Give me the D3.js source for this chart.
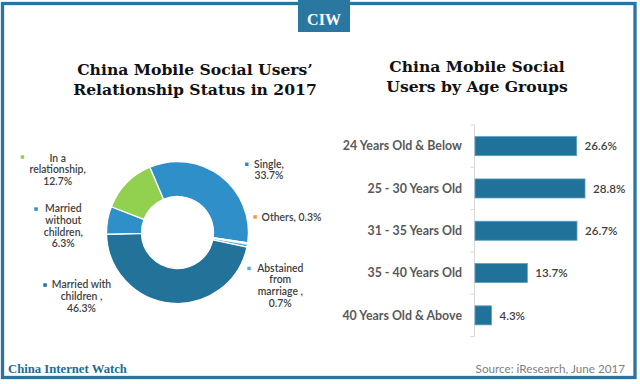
<!DOCTYPE html>
<html>
<head>
<meta charset="utf-8">
<script src="https://cdn.jsdelivr.net/npm/d3@7"></script>
<style>
  html, body { margin: 0; padding: 0; background: #fff; }
  svg { display: block; }
</style>
</head>
<body>
<svg id="chart" width="640" height="384"></svg>
<script>
// ---- data ----
const relCategories = ["Single", "Others", "Abstained from marriage", "Married with children", "Married without children", "In a relationship"];
const relValues = [33.7, 0.3, 0.7, 46.3, 6.3, 12.7];
const relLabelLines = [
  ["Single,", "33.7%"],
  ["Others, 0.3%"],
  ["Abstained", "from", "marriage ,", "0.7%"],
  ["Married with", "children ,", "46.3%"],
  ["Married", "without", "children,", "6.3%"],
  ["In a", "relationship,", "12.7%"]
];
const ageCategories = ["24 Years Old & Below", "25 - 30 Years Old", "31 - 35 Years Old", "35 - 40 Years Old", "40 Years Old & Above"];
const ageValues = [26.6, 28.8, 26.7, 13.7, 4.3];
const ageValueLabels = ["26.6%", "28.8%", "26.7%", "13.7%", "4.3%"];

// ---- styles / layout ----
const relColors = ["#2e8fc9", "#f79646", "#5aaee0", "#22729a", "#2e8fc9", "#92d050"];
const relLabelLayout = [
  { cx: 269, y: 167.5, mx: 245, my: 162.5 },
  { cx: 291.5, y: 220.7, mx: 253.3, my: 215.2 },
  { cx: 280.3, y: 271.7, mx: 247.3, my: 266.7 },
  { cx: 81.5, y: 288.3, mx: 43.3, my: 283.3 },
  { cx: 63.3, y: 212.3, mx: 34.3, my: 207.3 },
  { cx: 57.7, y: 161.7, mx: 20.7, my: 155.3 }
];
const lineH = 11.7;
const bodyFont = "Lato, 'Open Sans', sans-serif";
const serifFont = "'DejaVu Serif', 'Liberation Serif', serif";
const footFont = "'Liberation Serif', serif";

const svg = d3.select("#chart");

// frame
svg.append("rect")
  .attr("x", 2.5).attr("y", 3.5).attr("width", 632.5).attr("height", 374)
  .attr("fill", "none").attr("stroke", "#2a74a0").attr("stroke-width", 3.3);

// CIW badge
svg.append("rect").attr("x", 298).attr("y", 0).attr("width", 52).attr("height", 32).attr("fill", "#2a77a2");
svg.append("text").attr("x", 324).attr("y", 25).attr("text-anchor", "middle")
  .attr("font-family", footFont).attr("font-weight", "bold").attr("font-size", 16)
  .attr("fill", "#fff").text("CIW");

// titles
function title(lines, cx, y0) {
  lines.forEach((t, i) => {
    svg.append("text").attr("x", cx).attr("y", y0 + i * 20).attr("text-anchor", "middle")
      .attr("font-family", serifFont).attr("font-weight", "bold").attr("font-size", 15.6)
      .attr("fill", "#111").text(t);
  });
}
title(["China Mobile Social Users’", "Relationship Status in 2017"], 195, 75);
title(["China Mobile Social", "Users by Age Groups"], 477, 71.7);

// ---- donut ----
const cx = 177.5, cy = 232.5;
const start = -23 * Math.PI / 180;
const pie = d3.pie().sort(null).startAngle(start).endAngle(start + 2 * Math.PI);
const arc = d3.arc().innerRadius(36).outerRadius(71);
const g = svg.append("g").attr("transform", `translate(${cx},${cy})`);
g.selectAll("path").data(pie(relValues)).join("path")
  .attr("d", arc)
  .attr("fill", (d, i) => relColors[i])
  .attr("stroke", "#fff").attr("stroke-width", 1.3);

// donut labels
relLabelLines.forEach((lines, i) => {
  const L = relLabelLayout[i];
  svg.append("rect").attr("x", L.mx).attr("y", L.my).attr("width", 3.5).attr("height", 3.5)
    .attr("fill", relColors[i]);
  lines.forEach((t, j) => {
    svg.append("text").attr("x", L.cx).attr("y", L.y + j * lineH).attr("text-anchor", "middle")
      .attr("font-family", bodyFont).attr("font-size", 10.4).attr("font-weight", 600)
      .attr("fill", "#404040").text(t);
  });
});

// ---- bars ----
const x = d3.scaleLinear().domain([0, 30]).range([475, 475 + 30 * 3.82]);
const y = d3.scaleBand().domain(ageCategories).range([125, 336.5]).paddingInner(0.55).paddingOuter(0.275);
const bandStep = y.step();

const axis = svg.append("g").attr("stroke", "#d9d9d9").attr("stroke-width", 1);
axis.append("line").attr("x1", 474.5).attr("x2", 474.5).attr("y1", 125).attr("y2", 336.5);
d3.range(ageCategories.length + 1).forEach(k => {
  const yy = 125 + k * bandStep;
  axis.append("line").attr("x1", 470.5).attr("x2", 474.5).attr("y1", yy).attr("y2", yy);
});

svg.append("g").selectAll("rect").data(ageValues).join("rect")
  .attr("x", x(0)).attr("y", (d, i) => y(ageCategories[i]))
  .attr("width", d => x(d) - x(0)).attr("height", y.bandwidth())
  .attr("fill", "#21729a").attr("stroke", "#5c9dc0").attr("stroke-width", 0.8);

svg.append("g").selectAll("text").data(ageCategories).join("text")
  .attr("x", 462).attr("y", d => y(d) + y.bandwidth() / 2 + 4.3)
  .attr("text-anchor", "end").attr("font-family", bodyFont).attr("font-weight", "bold")
  .attr("font-size", 12.4).attr("fill", "#595959").text(d => d);

svg.append("g").selectAll("text").data(ageValues).join("text")
  .attr("x", d => x(d) + 8).attr("y", (d, i) => y(ageCategories[i]) + y.bandwidth() / 2 + 4.3)
  .attr("font-family", bodyFont).attr("font-weight", 600)
  .attr("font-size", 11.6).attr("fill", "#404040").text((d, i) => ageValueLabels[i]);

// footer
svg.append("text").attr("x", 8).attr("y", 373).attr("font-family", footFont).attr("font-weight", "bold")
  .attr("font-size", 12.7).attr("fill", "#236b94").text("China Internet Watch");
svg.append("text").attr("x", 625).attr("y", 373).attr("text-anchor", "end").attr("font-family", bodyFont)
  .attr("font-size", 11.7).attr("fill", "#808080").text("Source: iResearch, June 2017");
</script>
</body>
</html>
